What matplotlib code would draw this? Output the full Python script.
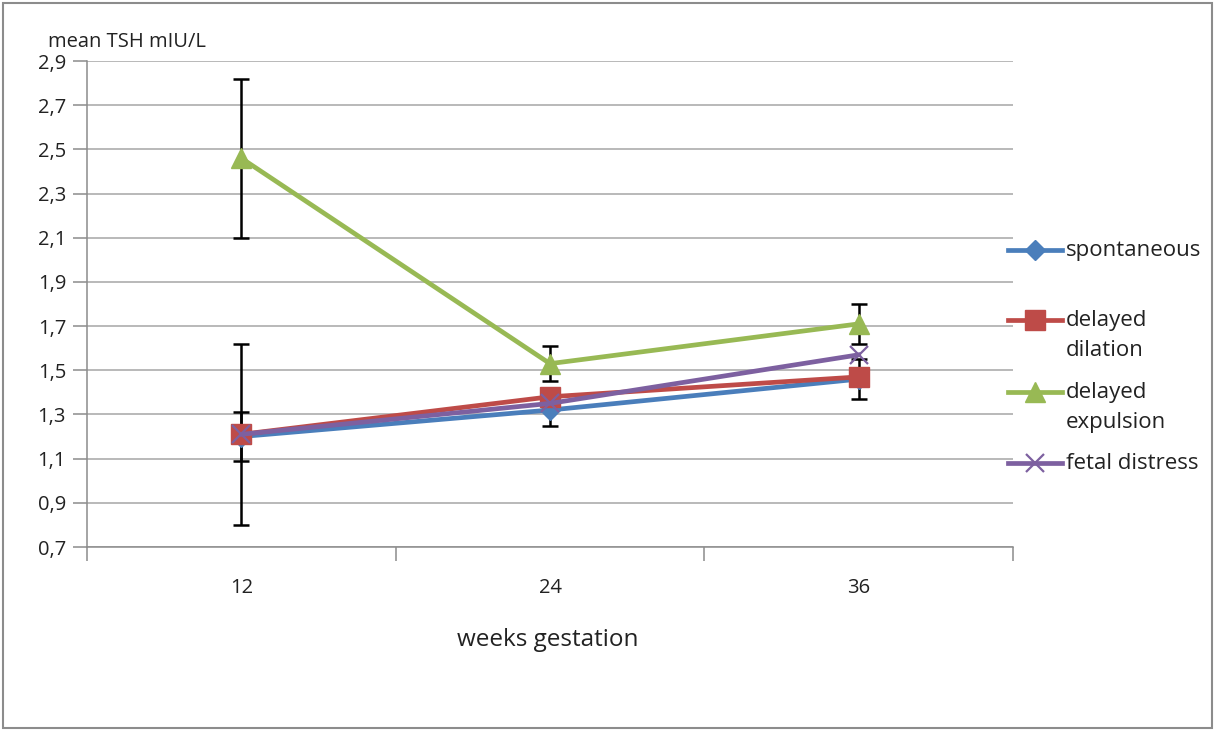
import numpy as np
import matplotlib
matplotlib.use("Agg")
import matplotlib.pyplot as plt
from matplotlib.patches import Rectangle
from matplotlib.lines import Line2D

plt.rcParams["font.family"] = ["Open Sans", "DejaVu Sans"]

weeks = ["12", "24", "36"]
spontaneous = [1.20, 1.32, 1.46]
delayed_dilation = [1.21, 1.38, 1.47]
delayed_expulsion = [2.46, 1.53, 1.71]
fetal_distress = [1.21, 1.35, 1.57]

err_spontaneous = [0.11, 0.07, 0.09]
err_expulsion = [0.36, 0.08, 0.09]
err_fetal = [0.41, np.nan, np.nan]

y_ticks = [0.7, 0.9, 1.1, 1.3, 1.5, 1.7, 1.9, 2.1, 2.3, 2.5, 2.7, 2.9]

W, H = 1215, 731
fig = plt.figure(figsize=(W / 100, H / 100), dpi=100)
ax = fig.add_axes([87 / W, 1 - 547 / H, (1013 - 87) / W, (547 - 61) / H])

# outer chart border
fig.patches.append(Rectangle((3 / W, 3 / H), 1209 / W, 725 / H,
                             transform=fig.transFigure, fill=False,
                             edgecolor="#8c8c8c", linewidth=1.5))

x = np.arange(len(weeks))

# error bars under the lines
eb = dict(fmt="none", ecolor="black", elinewidth=1.8, capsize=6, capthick=1.8, zorder=2)
ax.errorbar(x, spontaneous, yerr=err_spontaneous, **eb)
ax.errorbar(x, delayed_expulsion, yerr=err_expulsion, **eb)
ax.errorbar(x, fetal_distress, yerr=err_fetal, **eb)

series = [
    (spontaneous, "spontaneous", "#4a7ebb", dict(marker="D", ms=10)),
    (delayed_dilation, "delayed\ndilation", "#be4b48", dict(marker="s", ms=14)),
    (delayed_expulsion, "delayed\nexpulsion", "#98b954", dict(marker="^", ms=15)),
    (fetal_distress, "fetal distress", "#7d60a0", dict(marker="x", ms=13, mew=1.6)),
]
for vals, lab, col, mk in series:
    ax.plot(x, vals, color=col, lw=3.4, zorder=3, **mk)

ax.set_xlim(-0.5, 2.5)
ax.set_ylim(0.7, 2.9)
ax.set_yticks(y_ticks)
ax.set_yticklabels([f"{v:.1f}".replace(".", ",") for v in y_ticks])
ax.set_xticks(x)
ax.set_xticklabels(weeks)
ax.set_xticks([-0.5, 0.5, 1.5, 2.5], minor=True)

ax.grid(axis="y", color="#a6a6a6", lw=1.1)
ax.set_axisbelow(True)
for s in ["top", "right"]:
    ax.spines[s].set_visible(False)
for s in ["left", "bottom"]:
    ax.spines[s].set_color("#8c8c8c")
    ax.spines[s].set_linewidth(1.1)

ax.tick_params(axis="x", which="major", length=0, pad=22, labelsize=14.5, labelcolor="#222222")
ax.tick_params(axis="x", which="minor", length=10, direction="out", color="#8c8c8c", width=1.1)
ax.tick_params(axis="y", length=10, color="#8c8c8c", width=1.1, pad=5,
               labelsize=14.5, labelcolor="#222222")

fig.text(48 / W, 1 - 42 / H, "mean TSH mIU/L", fontsize=14.5, color="#222222",
         ha="left", va="center")
fig.text(548 / W, 1 - 640 / H, "weeks gestation", fontsize=17.5, color="#222222",
         ha="center", va="center")

# legend, handle lined up with the first text line as in the original
legend_y = [250, 320, 392, 463]
for (vals, lab, col, mk), yy in zip(series, legend_y):
    yf = 1 - yy / H
    fig.add_artist(Line2D([1008 / W, 1062 / W], [yf, yf], transform=fig.transFigure,
                          color=col, lw=3.4))
    fig.add_artist(Line2D([1035 / W], [yf], transform=fig.transFigure, color=col,
                          lw=0, **mk))
    # shift up so the first line is centred on the handle
    fig.text(1066 / W, yf + 10 / H, lab, fontsize=16, color="#222222", ha="left",
             va="top", linespacing=1.55, transform=fig.transFigure)

fig.savefig("out.png", dpi=100)
